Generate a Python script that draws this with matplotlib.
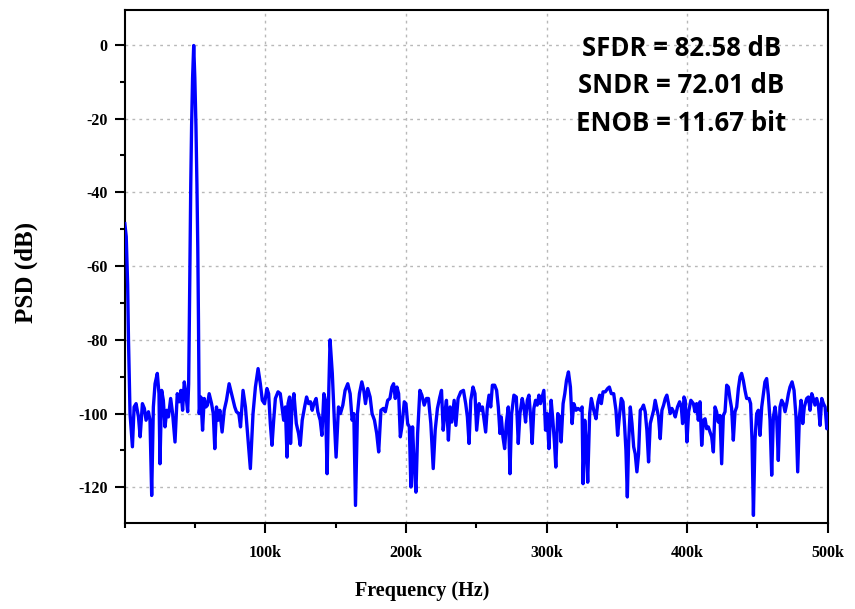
import matplotlib
matplotlib.use("Agg")
import matplotlib.pyplot as plt
from matplotlib.ticker import MultipleLocator, FixedLocator

plt.rcParams["axes.unicode_minus"] = False

# spectrum: frequency in kHz, PSD in dB
freq_khz = [
    0.0, 1.0, 2.0, 2.6, 3.7, 5.4, 6.6, 8.0, 9.7, 10.9, 12.5, 13.9, 15.1, 16.8, 17.9,
    19.1, 20.3, 21.5, 23.1, 24.3, 25.0, 26.2, 27.4, 28.6, 29.8, 31.0, 32.6, 34.0, 35.7,
    37.3, 38.7, 39.9, 41.1, 42.3, 43.5, 44.7, 45.4, 45.9, 46.4, 46.9, 47.5, 48.2, 49.0,
    49.8, 50.6, 51.3, 51.9, 52.4, 52.9, 54.1, 55.3, 56.5, 57.7, 58.8, 60.0, 61.7, 62.9,
    64.0, 65.2, 66.4, 67.6, 69.2, 70.7, 72.3, 74.2, 75.9, 78.2, 79.4, 81.1, 82.3, 84.1,
    85.8, 87.7, 89.3, 91.2, 92.9, 94.8, 96.4, 97.8, 99.4, 101.1, 102.3, 103.5, 104.7,
    105.9, 107.1, 109.0, 110.6, 111.8, 113.0, 114.2, 115.4, 116.1, 117.2, 117.9, 118.9,
    120.3, 122.0, 123.6, 124.8, 126.2, 127.9, 129.3, 130.7, 132.1, 133.3, 134.5, 136.1,
    137.3, 139.0, 140.2, 141.6, 142.7, 143.9, 145.1, 146.0, 147.6, 149.1, 150.3, 152.0,
    153.4, 155.1, 156.7, 158.6, 160.3, 161.7, 162.9, 164.1, 165.5, 166.9, 168.6, 170.0,
    171.2, 172.8, 174.5, 175.9, 177.6, 179.2, 180.6, 182.2, 183.9, 185.3, 187.0, 188.6,
    190.0, 191.2, 192.4, 193.6, 194.8, 196.0, 197.1, 198.8, 200.0, 201.2, 202.4, 203.5,
    204.7, 205.9, 207.1, 208.3, 209.9, 211.3, 213.0, 214.6, 216.0, 217.7, 219.4, 220.8,
    222.4, 224.1, 225.3, 226.5, 227.6, 228.8, 230.2, 231.4, 232.6, 234.3, 235.5, 237.1,
    239.0, 240.9, 242.5, 243.7, 244.9, 246.1, 247.7, 249.1, 250.3, 252.0, 253.2, 254.4,
    255.6, 256.7, 257.9, 259.1, 260.3, 261.5, 263.1, 264.5, 265.7, 266.9, 267.8, 269.0,
    270.2, 271.4, 272.8, 274.0, 275.2, 276.8, 278.5, 279.9, 281.1, 282.7, 283.9, 285.1,
    286.3, 287.5, 288.7, 289.8, 291.0, 292.2, 293.4, 294.6, 295.7, 296.9, 298.1, 299.3,
    300.5, 301.7, 303.3, 304.5, 305.7, 306.6, 308.0, 309.4, 310.4, 311.8, 313.0, 314.2,
    315.6, 317.0, 318.2, 319.4, 321.0, 322.4, 324.1, 325.3, 326.0, 327.2, 328.1, 329.3,
    330.7, 331.9, 333.6, 335.2, 336.6, 337.8, 339.0, 340.2, 341.8, 343.5, 344.7, 346.1,
    347.8, 349.4, 350.6, 351.8, 353.2, 354.4, 355.6, 356.5, 357.5, 358.4, 359.6, 360.8,
    362.0, 363.1, 364.3, 365.5, 366.7, 367.9, 369.0, 370.2, 371.4, 372.6, 373.8, 375.0,
    376.2, 377.3, 378.5, 379.7, 380.9, 382.1, 383.3, 384.5, 385.6, 386.8, 388.0, 389.2,
    390.4, 391.6, 393.2, 394.7, 395.9, 396.8, 397.8, 398.7, 399.9, 401.1, 402.7, 404.5,
    405.6, 406.8, 408.0, 409.2, 410.4, 411.6, 412.8, 413.9, 415.1, 416.3, 417.5, 418.7,
    419.9, 421.0, 422.2, 423.4, 424.6, 425.8, 427.0, 428.2, 429.4, 430.5, 431.7, 432.9,
    434.1, 435.3, 436.5, 437.7, 438.8, 440.0, 441.2, 442.4, 444.1, 445.2, 446.2, 447.2,
    448.3, 449.5, 450.7, 451.9, 453.1, 454.3, 455.4, 456.6, 457.8, 459.0, 460.2, 461.4,
    462.6, 463.8, 464.9, 466.1, 467.3, 468.5, 469.7, 470.9, 472.1, 473.2, 474.7, 476.1,
    477.5, 478.7, 479.9, 481.1, 482.3, 483.4, 485.1, 486.3, 487.5, 488.7, 489.8, 491.0,
    492.2, 493.4, 494.6, 495.8, 497.0, 498.2, 499.4, 500.0,
]
psd_db = [
    -48.5, -52, -65, -80, -100, -109, -98.2, -97.3, -100.9, -106.3, -97.3, -98.6, -101.8, -99.5, -101.8,
    -122.2, -98.2, -91.9, -89.1, -94.6, -113.6, -93.7, -96.4, -103.6, -99.1, -100.9, -95.9, -100, -107.7,
    -94.6, -96.8, -93.7, -99.1, -91.4, -95.0, -99.5, -92, -75, -55, -38, -22, -9, -0.2,
    -9, -22, -38, -55, -75, -100, -95.5, -104.5, -95.9, -98.2, -97.7, -94.6, -97.3, -100,
    -109.5, -98.2, -101.8, -99.1, -105, -99.1, -96.4, -91.9, -94.6, -98.2, -99.5, -100, -103.6, -93.7,
    -98.2, -107.2, -114.9, -100, -92.8, -87.8, -91.9, -96.4, -97.3, -93.2, -94.6, -102.7, -108.6,
    -101.8, -95.9, -94.1, -94.6, -98.2, -101.8, -98.2, -111.8, -97.3, -95.5, -108.1, -98.2,
    -94.6, -102.7, -105.4, -108.6, -101.8, -98.2, -95.5, -97.3, -96.8, -99.1, -97.3, -95.9,
    -99.5, -101.8, -105.9, -94.6, -96.4, -116.3, -93.7, -80.0, -89.1, -102.3, -111.8, -98.2,
    -100, -97.7, -93.7, -91.9, -94.6, -101.8, -100, -124.9, -100, -94.6, -91.4, -93.7,
    -97.3, -93.2, -95.5, -100, -101.8, -105.4, -110.4, -99.1, -98.6, -99.5, -96.4, -95.9,
    -92.8, -91.9, -95.9, -92.8, -94.6, -106.3, -103.6, -96.8, -97.3, -102.7, -103.6, -119.9,
    -103.6, -114.5, -121.3, -105.4, -93.7, -95, -97.7, -95.9, -95.9, -102.7, -114.9, -104.5,
    -98.6, -95.5, -93.7, -104.5, -100, -96.4, -107.2, -98.2, -102.3, -96.4, -103.2, -95.9,
    -94.1, -93.7, -97.3, -100.9, -108.1, -96.4, -92.8, -94.6, -104.5, -97.3, -99.1, -98.2,
    -101.8, -105, -98.2, -95, -98.2, -92.3, -92.3, -93.7, -98.2, -105.4, -100.9, -106.3,
    -109.5, -102.7, -98.2, -116.3, -100, -95, -95.5, -108.1, -100, -95.9, -98.2, -102.3,
    -96.4, -95, -100.9, -108.1, -98.6, -96.4, -97.7, -95, -97.3, -95.5, -93.7, -104.5,
    -100, -109.5, -96.4, -101.8, -108.1, -114.5, -100, -100.9, -107.7, -97.3, -94.6, -91,
    -88.7, -92.8, -102.7, -97.3, -99.1, -98.6, -99.1, -98.2, -119, -101.8, -107.2, -118.6,
    -100, -95.9, -99.1, -101.4, -96.8, -95, -97.3, -94.1, -94.1, -93.2, -92.8, -94.6,
    -94.6, -99.1, -105.9, -100.9, -95.9, -96.8, -103.6, -110, -122.6, -108.1, -98.2, -102.7,
    -109, -110.9, -115.8, -110.9, -99.1, -98.6, -97.7, -99.5, -104.5, -113.1, -102.7, -100.9,
    -99.1, -96.4, -98.6, -100.9, -106.8, -99.1, -97.7, -95.9, -95, -97.3, -100, -98.6,
    -99.5, -100.9, -98.2, -96.8, -98.2, -102.7, -95.5, -96.4, -107.7, -99.5, -96.4, -97.3,
    -99.5, -97.3, -101.8, -96.8, -108.6, -101.8, -101.4, -104.1, -103.6, -105, -106.3, -110.4,
    -98.2, -99.5, -102.3, -100.5, -113.6, -100.5, -99.5, -92.3, -92.8, -95.9, -98.6, -107.2,
    -99.5, -98.2, -93.2, -90, -89.1, -91, -93.7, -95.9, -95.9, -97.3, -107.2, -127.6,
    -107.2, -100, -99.1, -105.9, -98.2, -94.6, -91.4, -90.5, -95, -101.8, -116.7, -100.9,
    -98.2, -101.8, -112.7, -98.2, -96.4, -97.3, -99.5, -97.3, -94.6, -92.8, -91.4, -93.7,
    -100.9, -115.8, -100.9, -96.4, -102.7, -98.2, -95.9, -95.5, -99.1, -94.6, -95.9, -97.7,
    -95.9, -97.7, -103.2, -95.9, -97.3, -98.2, -104.1, -100,
]

x_ticks = [100000, 200000, 300000, 400000, 500000]
x_tick_labels = ["100k", "200k", "300k", "400k", "500k"]
y_ticks = [0, -20, -40, -60, -80, -100, -120]
metrics = ["SFDR = 82.58 dB", "SNDR = 72.01 dB", "ENOB = 11.67 bit"]

serif = "Liberation Serif"

fig = plt.figure(figsize=(8.55, 6.09), dpi=100)
ax = fig.add_axes([0.146, 0.141, 0.822, 0.843])

freq_hz = [f * 1000 for f in freq_khz]
ax.plot(freq_hz, psd_db, color="#0000ff", linewidth=2.4, zorder=3)

ax.set_xlim(0, 500000)
ax.set_ylim(-129.7, 9.5)

ax.xaxis.set_major_locator(FixedLocator(x_ticks))
ax.set_xticklabels(x_tick_labels)
ax.xaxis.set_minor_locator(MultipleLocator(50000))
ax.set_yticks(y_ticks)
ax.yaxis.set_minor_locator(MultipleLocator(10))

ax.grid(True, which="major", color="#b8b8b8", linestyle=(0, (2, 3)), linewidth=1.0)

for s in ax.spines.values():
    s.set_linewidth(1.5)

ax.tick_params(which="major", direction="out", length=7.5, width=1.5)
ax.tick_params(which="minor", direction="out", length=3.8, width=1.5)
ax.tick_params(axis="x", which="major", pad=8)
ax.tick_params(axis="y", which="major", pad=5)
ax.tick_params(top=False, right=False, which="both")

for lab in ax.get_xticklabels() + ax.get_yticklabels():
    lab.set_fontfamily(serif)
    lab.set_fontweight("bold")
    lab.set_fontsize(11.5)

ax.set_xlabel("Frequency (Hz)", fontfamily=serif, fontweight="bold", fontsize=14.5)
ax.set_ylabel("PSD (dB)", fontfamily=serif, fontweight="bold", fontsize=18)
ax.xaxis.set_label_coords(0.4225, -0.112)
ax.yaxis.set_label_coords(-0.124, 0.489)

for i, txt in enumerate(metrics):
    ax.text(0.792, 0.924 - i * 0.0725, txt, transform=ax.transAxes,
            ha="center", va="center", fontfamily="Open Sans", fontweight="bold",
            fontsize=18.5, color="black")

fig.savefig("out.png", dpi=100)
